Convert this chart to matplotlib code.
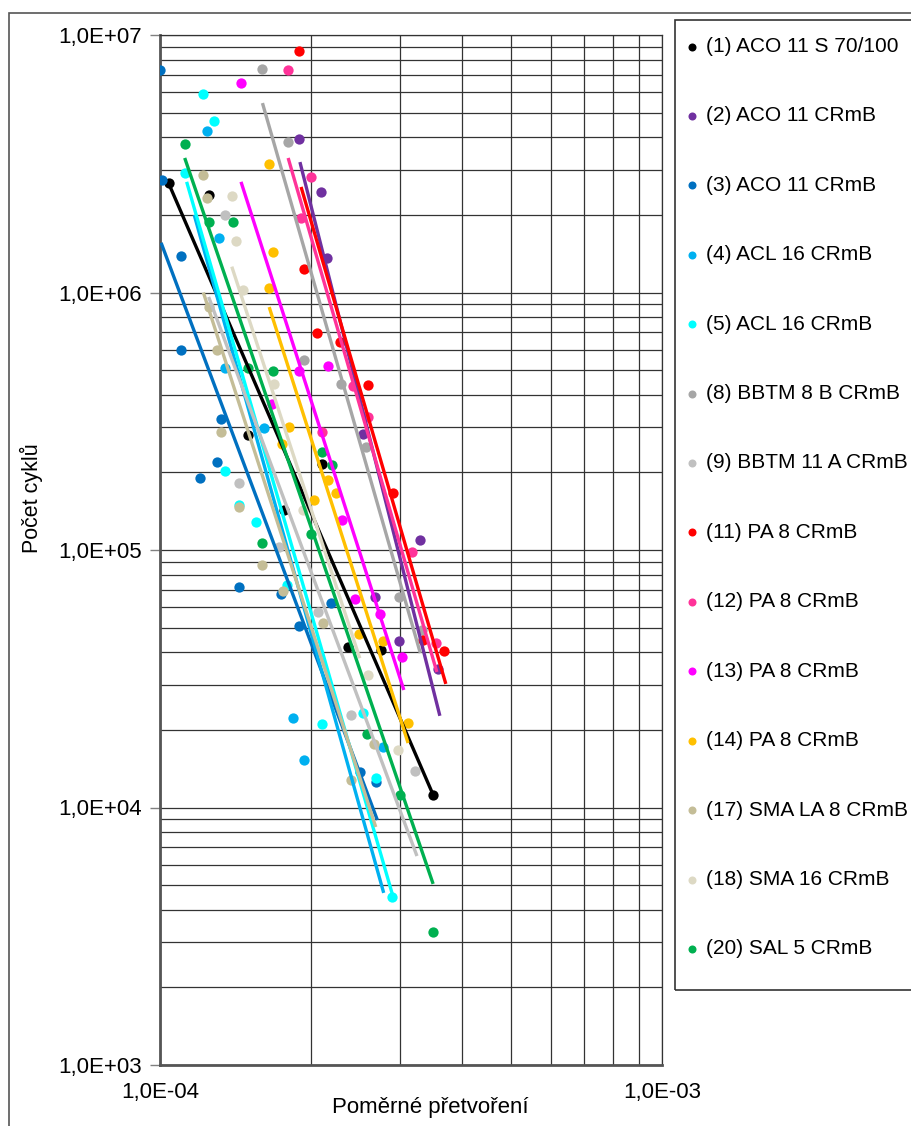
import numpy as np
import matplotlib.pyplot as plt
from matplotlib.patches import Rectangle
from matplotlib.ticker import LogLocator, FuncFormatter, NullFormatter

plt.rcParams['font.family'] = ['Liberation Sans', 'DejaVu Sans']

# series labels and colours
labels = ['(1) ACO 11 S 70/100', '(2) ACO 11 CRmB', '(3) ACO 11 CRmB', '(4) ACL 16 CRmB',
          '(5) ACL 16 CRmB', '(8) BBTM 8 B CRmB', '(9) BBTM 11 A CRmB', '(11) PA 8 CRmB',
          '(12) PA 8 CRmB', '(13) PA 8 CRmB', '(14) PA 8 CRmB', '(17) SMA LA 8 CRmB',
          '(18) SMA 16 CRmB', '(20) SAL 5 CRmB']
colors = ['#000000', '#7030A0', '#0070C0', '#00B0F0', '#00FFFF', '#A6A6A6', '#C0C0C0',
          '#FF0000', '#FF3399', '#FF00FF', '#FFC000', '#C4BD97', '#DDD9C4', '#00B050']

# measured points: strain (x) and number of cycles (y)
eps_1 = [1.04e-4, 1.25e-4, 1.50e-4, 2.10e-4, 1.77e-4, 2.37e-4, 2.76e-4, 3.50e-4]
n_1 = [2.66e6, 2.39e6, 2.80e5, 2.16e5, 1.43e5, 4.20e4, 4.09e4, 1.12e4]
eps_2 = [1.89e-4, 2.09e-4, 2.15e-4, 2.54e-4, 2.68e-4, 2.99e-4, 3.30e-4, 3.58e-4]
n_2 = [3.95e6, 2.46e6, 1.36e6, 2.82e5, 6.57e4, 4.43e4, 1.09e5, 3.45e4]
eps_3 = [1.00e-4, 1.01e-4, 1.10e-4, 1.10e-4, 1.32e-4, 1.30e-4, 1.20e-4, 1.44e-4,
         1.74e-4, 2.19e-4, 1.89e-4, 2.50e-4, 2.69e-4]
n_3 = [7.31e6, 2.73e6, 1.39e6, 5.98e5, 3.23e5, 2.20e5, 1.90e5, 7.18e4,
       6.75e4, 6.23e4, 5.07e4, 1.37e4, 1.26e4]
eps_4 = [1.24e-4, 1.31e-4, 1.35e-4, 1.61e-4, 1.84e-4, 1.94e-4, 2.78e-4]
n_4 = [4.24e6, 1.63e6, 5.09e5, 2.98e5, 2.23e4, 1.53e4, 1.72e4]
eps_5 = [1.22e-4, 1.28e-4, 1.12e-4, 1.35e-4, 1.44e-4, 1.55e-4, 1.79e-4, 2.10e-4,
         2.54e-4, 2.69e-4, 2.90e-4]
n_5 = [5.90e6, 4.63e6, 2.91e6, 2.03e5, 1.50e5, 1.28e5, 7.31e4, 2.11e4,
       2.33e4, 1.30e4, 4.49e3]
eps_8 = [1.60e-4, 1.80e-4, 1.94e-4, 2.29e-4, 2.57e-4, 2.99e-4, 3.33e-4]
n_8 = [7.38e6, 3.84e6, 5.47e5, 4.41e5, 2.51e5, 6.57e4, 4.89e4]
eps_9 = [1.35e-4, 1.44e-4, 1.73e-4, 2.06e-4, 2.40e-4, 3.22e-4]
n_9 = [2.00e6, 1.82e5, 1.03e5, 5.74e4, 2.29e4, 1.39e4]
eps_11 = [1.89e-4, 1.94e-4, 2.05e-4, 2.28e-4, 2.60e-4, 2.91e-4, 3.34e-4, 3.68e-4]
n_11 = [8.67e6, 1.23e6, 6.96e5, 6.42e5, 4.37e5, 1.66e5, 4.47e4, 4.05e4]
eps_12 = [1.80e-4, 2.00e-4, 1.91e-4, 2.10e-4, 2.42e-4, 2.60e-4, 3.18e-4, 3.55e-4]
n_12 = [7.31e6, 2.81e6, 1.95e6, 2.87e5, 4.33e5, 3.28e5, 9.82e4, 4.35e4]
eps_13 = [1.45e-4, 1.89e-4, 2.16e-4, 1.67e-4, 2.30e-4, 2.45e-4, 2.74e-4, 3.03e-4]
n_13 = [6.51e6, 4.96e5, 5.18e5, 3.69e5, 1.31e5, 6.45e4, 5.64e4, 3.84e4]
eps_14 = [1.65e-4, 1.68e-4, 1.65e-4, 1.81e-4, 1.75e-4, 2.16e-4, 2.24e-4, 2.03e-4,
          2.49e-4, 2.78e-4, 3.12e-4]
n_14 = [3.16e6, 1.44e6, 1.04e6, 3.00e5, 2.58e5, 1.87e5, 1.66e5, 1.56e5,
        4.72e4, 4.43e4, 2.13e4]
eps_17 = [1.22e-4, 1.24e-4, 1.25e-4, 1.30e-4, 1.32e-4, 1.44e-4, 1.60e-4, 1.76e-4,
          2.11e-4, 2.67e-4, 2.40e-4]
n_17 = [2.86e6, 2.33e6, 8.78e5, 5.98e5, 2.87e5, 1.47e5, 8.74e4, 6.93e4,
        5.21e4, 1.76e4, 1.28e4]
eps_18 = [1.39e-4, 1.42e-4, 1.46e-4, 1.69e-4, 1.93e-4, 2.60e-4, 2.98e-4]
n_18 = [2.37e6, 1.58e6, 1.02e6, 4.41e5, 1.43e5, 3.27e4, 1.67e4]
eps_20 = [1.12e-4, 1.25e-4, 1.40e-4, 1.50e-4, 1.68e-4, 2.10e-4, 2.20e-4, 2.00e-4,
          1.60e-4, 2.59e-4, 3.01e-4, 3.50e-4]
n_20 = [3.77e6, 1.88e6, 1.88e6, 5.09e5, 4.96e5, 2.40e5, 2.14e5, 1.15e5,
        1.06e5, 1.93e4, 1.12e4, 3.28e3]

# power trend lines (start / end of each fitted line)
trend_eps = [(1.04e-4, 3.50e-4), (1.90e-4, 3.61e-4), (1.005e-4, 2.71e-4), (1.17e-4, 2.79e-4),
             (1.13e-4, 2.91e-4), (1.60e-4, 3.30e-4), (1.25e-4, 3.25e-4), (1.91e-4, 3.71e-4),
             (1.80e-4, 3.56e-4), (1.45e-4, 3.06e-4), (1.65e-4, 3.12e-4), (1.22e-4, 2.69e-4),
             (1.39e-4, 2.50e-4), (1.12e-4, 3.50e-4)]
trend_n = [(2.66e6, 1.12e4), (3.21e6, 2.27e4), (1.56e6, 8.94e3), (2.00e6, 4.66e3),
           (2.69e6, 4.53e3), (5.44e6, 3.98e4), (9.61e5, 6.48e3), (2.57e6, 3.02e4),
           (3.33e6, 3.36e4), (2.69e6, 2.86e4), (8.78e5, 1.78e4), (1.00e6, 8.40e3),
           (1.26e6, 3.80e4), (3.33e6, 5.05e3)]

eps_all = [eps_1, eps_2, eps_3, eps_4, eps_5, eps_8, eps_9, eps_11, eps_12, eps_13,
           eps_14, eps_17, eps_18, eps_20]
n_all = [n_1, n_2, n_3, n_4, n_5, n_8, n_9, n_11, n_12, n_13, n_14, n_17, n_18, n_20]

fig = plt.figure(figsize=(9.12, 11.26), dpi=100)
ax = fig.add_axes([160 / 912, 61 / 1126, 502 / 912, 1030 / 1126])

handles = []
for i in range(len(labels)):
    h = ax.scatter(eps_all[i], n_all[i], s=55, color=colors[i], zorder=3 + i * 0.01,
                   linewidths=0, label=labels[i])
    handles.append(h)
for i in range(len(labels)):
    # straight line in log-log = power law
    x0, x1 = trend_eps[i]
    y0, y1 = trend_n[i]
    xs = np.geomspace(x0, x1, 20)
    b = np.log(y1 / y0) / np.log(x1 / x0)
    ax.plot(xs, y0 * (xs / x0) ** b, color=colors[i], lw=2.4, zorder=4 + i * 0.01,
            solid_capstyle='butt')

ax.set_xscale('log')
ax.set_yscale('log')
ax.set_xlim(1e-4, 1e-3)
ax.set_ylim(1e3, 1e7)

ax.xaxis.set_major_locator(LogLocator(base=10, numticks=5))
ax.yaxis.set_major_locator(LogLocator(base=10, numticks=10))
ax.xaxis.set_minor_locator(LogLocator(base=10, subs=np.arange(2, 10), numticks=20))
ax.yaxis.set_minor_locator(LogLocator(base=10, subs=np.arange(2, 10), numticks=20))
ax.xaxis.set_minor_formatter(NullFormatter())
ax.yaxis.set_minor_formatter(NullFormatter())


def sci_fmt(v, pos):
    e = int(round(np.log10(v)))
    return '1,0E%s%02d' % ('+' if e >= 0 else '-', abs(e))


ax.xaxis.set_major_formatter(FuncFormatter(sci_fmt))
ax.yaxis.set_major_formatter(FuncFormatter(sci_fmt))
ax.tick_params(axis='y', which='major', direction='out', length=7, width=1, color='#808080',
               labelsize=16, pad=6)
ax.tick_params(axis='x', which='major', length=0, labelsize=16, pad=12)
ax.tick_params(which='minor', length=0)

ax.grid(True, which='both', color='#333333', lw=0.9)
ax.set_axisbelow(True)
for side in ['left', 'bottom']:
    ax.spines[side].set_color('#555555')
    ax.spines[side].set_linewidth(2)
for side in ['top', 'right']:
    ax.spines[side].set_color('#333333')
    ax.spines[side].set_linewidth(0.9)

fig.text(31 / 912, 1 - 498 / 1126, 'Počet cyklů', rotation=90, ha='center', va='center',
         fontsize=15.5)
fig.text(430 / 912, 1 - 1108 / 1126, 'Poměrné přetvoření', ha='center', va='center',
         fontsize=16)

# outer chart border and legend box
fig.patches.append(Rectangle((9 / 912, -0.05), 1.2, 1 - 13 / 1126 + 0.05,
                             transform=fig.transFigure, fill=False, ec='#555555', lw=1.2))
fig.patches.append(Rectangle((675 / 912, 1 - 990 / 1126), 0.5, (990 - 20) / 1126,
                             transform=fig.transFigure, fill=False, ec='#333333', lw=1.2))

leg = fig.legend(handles=handles, loc='upper left', bbox_to_anchor=(687 / 912, 1 - 37 / 1126),
                 frameon=False, fontsize=15, markerscale=0.78, handlelength=0.5,
                 handletextpad=0.4, labelspacing=2.42, borderpad=0, borderaxespad=0)

fig.savefig('out.png', dpi=100)
